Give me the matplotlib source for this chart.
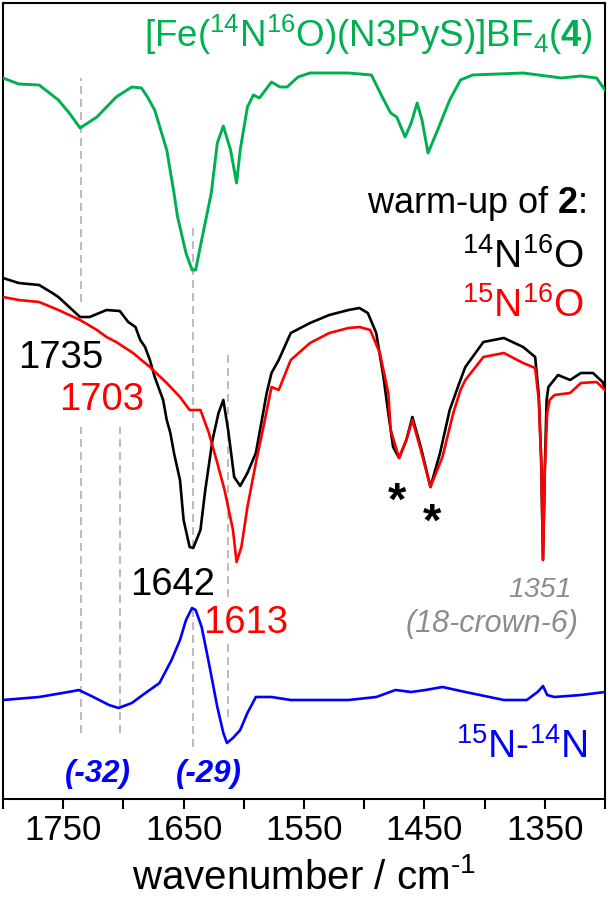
import numpy as np
import matplotlib
matplotlib.use("Agg")
import matplotlib.pyplot as plt

plt.rcParams["font.family"] = ["Liberation Sans", "DejaVu Sans"]
plt.rcParams["mathtext.fontset"] = "custom"
plt.rcParams["mathtext.rm"] = "Liberation Sans"
plt.rcParams["mathtext.it"] = "Liberation Sans:italic"
plt.rcParams["mathtext.bf"] = "Liberation Sans:bold"
plt.rcParams["mathtext.default"] = "regular"

# spectra (wavenumber / offset intensity, arbitrary units)
green_wn = [1800, 1787, 1770, 1754, 1745, 1736, 1722, 1706, 1693, 1685, 1680, 1674,
            1664, 1658, 1655, 1648, 1643, 1640, 1635, 1627, 1622, 1617, 1611, 1606,
            1603, 1597, 1592, 1587, 1577, 1570, 1564, 1555, 1545, 1513, 1494, 1485,
            1478, 1473, 1466, 1461, 1456, 1452, 1447, 1439, 1429, 1420, 1410, 1368,
            1336, 1320, 1307, 1300]
green_y = [822, 816, 815, 800, 787, 772, 783, 803, 813, 812, 803, 790,
           750, 707, 683, 647, 630, 630, 660, 707, 757, 774, 750, 717,
           750, 793, 805, 802, 818, 813, 813, 823, 827, 827, 825, 803,
           787, 783, 763, 777, 797, 780, 747, 770, 800, 820, 825, 827,
           822, 824, 822, 810]

black_wn = [1800, 1787, 1770, 1759, 1754, 1736, 1728, 1714, 1703, 1696, 1690, 1686,
            1682, 1678, 1674, 1667, 1664, 1661, 1658, 1653, 1650, 1645, 1642, 1636,
            1632, 1626, 1621, 1617, 1613, 1608, 1603, 1597, 1590, 1585, 1581, 1577,
            1571, 1561, 1545, 1529, 1513, 1504, 1497, 1490, 1484, 1480, 1476, 1471,
            1465, 1460, 1453, 1445, 1437, 1429, 1421, 1416, 1401, 1384, 1368, 1358,
            1355, 1353, 1351.5, 1350, 1348.5, 1347, 1339, 1329, 1320, 1310, 1302, 1300]
black_y = [622, 617, 615, 607, 603, 583, 583, 590, 589, 578, 573, 560,
           553, 540, 523, 500, 480, 467, 447, 420, 380, 353, 352, 370,
           410, 460, 487, 500, 470, 423, 414, 427, 447, 480, 507, 527,
           540, 567, 577, 585, 590, 592, 587, 567, 523, 487, 453, 442,
           460, 483, 453, 413, 447, 490, 517, 533, 558, 562, 553, 543,
           505, 440, 340, 430, 500, 513, 525, 520, 527, 527, 518, 512]

red_wn = [1800, 1787, 1770, 1754, 1736, 1722, 1714, 1706, 1692, 1678, 1664, 1653,
          1645, 1636, 1629, 1622, 1616, 1609, 1606, 1602, 1597, 1590, 1583, 1577,
          1571, 1561, 1545, 1529, 1513, 1504, 1495, 1487, 1480, 1478, 1471, 1465,
          1460, 1453, 1445, 1435, 1426, 1420, 1416, 1401, 1384, 1368, 1358, 1355,
          1353, 1351.5, 1350, 1348, 1346, 1342, 1329, 1320, 1307, 1300]
red_y = [603, 600, 598, 590, 580, 570, 563, 558, 547, 533, 517, 503,
         490, 490, 467, 437, 410, 370, 338, 353, 393, 437, 477, 513,
         510, 540, 557, 567, 572, 573, 570, 547, 507, 470, 442, 460,
         480, 450, 413, 443, 487, 510, 520, 543, 547, 537, 532, 500,
         440, 340, 430, 487, 500, 505, 507, 517, 518, 510]

blue_wn = [1800, 1770, 1741, 1737, 1725, 1712, 1704, 1693, 1684, 1670, 1660, 1653,
           1648, 1643, 1640, 1635, 1629, 1622, 1617, 1614, 1609, 1603, 1597, 1590,
           1577, 1561, 1513, 1490, 1474, 1461, 1449, 1435, 1416, 1384, 1365, 1356,
           1351.5, 1348, 1342, 1320, 1300]
blue_y = [200, 203, 209, 210, 203, 195, 192, 197, 205, 217, 240, 260,
          280, 292, 290, 273, 237, 193, 167, 157, 162, 170, 187, 203,
          203, 200, 200, 203, 210, 208, 210, 213, 208, 200, 200, 208,
          214, 205, 203, 205, 208]

# guide lines: position, (from, to) pieces
guide_wn = [1735, 1703, 1642, 1613]
guide_spans = [[(598, 822), (167, 473)],
               [(167, 473)],
               [(352, 677), (153, 293)],
               [(303, 550), (183, 260)]]

fig = plt.figure(figsize=(6.08, 9.0), dpi=100)
ax = fig.add_axes([3 / 608, 101 / 900, 602 / 608, 796 / 900])

for wn, spans in zip(guide_wn, guide_spans):
    for y0, y1 in spans:
        ax.plot([wn, wn], [y0, y1], color="#b0b0b0", lw=1.2,
                dashes=(4.8, 3), zorder=1)

ax.plot(green_wn, green_y, color="#00b050", lw=2.1, zorder=3)
ax.plot(black_wn, black_y, color="black", lw=1.9, zorder=3)
ax.plot(red_wn, red_y, color="#ff0000", lw=1.9, zorder=4)
ax.plot(blue_wn, blue_y, color="#0000ff", lw=1.9, zorder=3)

ax.set_xlim(1800, 1300)
ax.set_ylim(101, 897)
ax.set_yticks([])
ax.set_xticks([1750, 1650, 1550, 1450, 1350])
ax.set_xticks([1800, 1700, 1600, 1500, 1400, 1300], minor=True)
ax.tick_params(axis="x", which="both", direction="out", length=7.2, width=1.5,
               labelsize=25, pad=3.5)
for s in ax.spines.values():
    s.set_linewidth(1.5)
ax.set_xlabel("wavenumber / cm$^{\u2010 1}$", fontsize=29, labelpad=8)

# labels
ax.text(1310, 853, "[Fe($^{14}$N$^{16}$O)(N3PyS)]BF$_4$($\\mathbf{4}$)",
        color="#00b050", fontsize=26.5, ha="right", va="baseline")
ax.text(1315, 687, "warm-up of $\\mathbf{2}$:", color="black", fontsize=26,
        ha="right", va="baseline")
ax.text(1318, 632, "$^{14}$N$^{16}$O", color="black", fontsize=28,
        ha="right", va="baseline")
ax.text(1318, 583, "$^{15}$N$^{16}$O", color="#ff0000", fontsize=28,
        ha="right", va="baseline")

ax.text(1787.5, 532, "1735", color="black", fontsize=27.5, ha="left", va="baseline")
ax.text(1753, 490, "1703", color="#ff0000", fontsize=27.5, ha="left", va="baseline")
ax.text(1694.5, 305, "1642", color="black", fontsize=27.5, ha="left", va="baseline")
ax.text(1634, 267, "1613", color="#ff0000", fontsize=27.5, ha="left", va="baseline")

ax.text(1328, 303, "1351", color="#8c8c8c", fontsize=20.5, style="italic",
        ha="right", va="baseline")
ax.text(1322, 268, "(18-crown-6)", color="#8c8c8c", fontsize=22, style="italic",
        ha="right", va="baseline")

ax.text(1473, 385, "*", color="black", fontsize=34, fontweight="bold",
        ha="center", va="baseline")
ax.text(1444, 364, "*", color="black", fontsize=34, fontweight="bold",
        ha="center", va="baseline")

ax.text(1315, 142, "$^{15}$N-$^{14}$N", color="#0000ff", fontsize=28,
        ha="right", va="baseline")
ax.text(1721, 118, "(-32)", color="#0000ff", fontsize=22.5, style="italic",
        fontweight="bold", ha="center", va="baseline")
ax.text(1629, 118, "(-29)", color="#0000ff", fontsize=22.5, style="italic",
        fontweight="bold", ha="center", va="baseline")

fig.savefig("out.png", dpi=100)
